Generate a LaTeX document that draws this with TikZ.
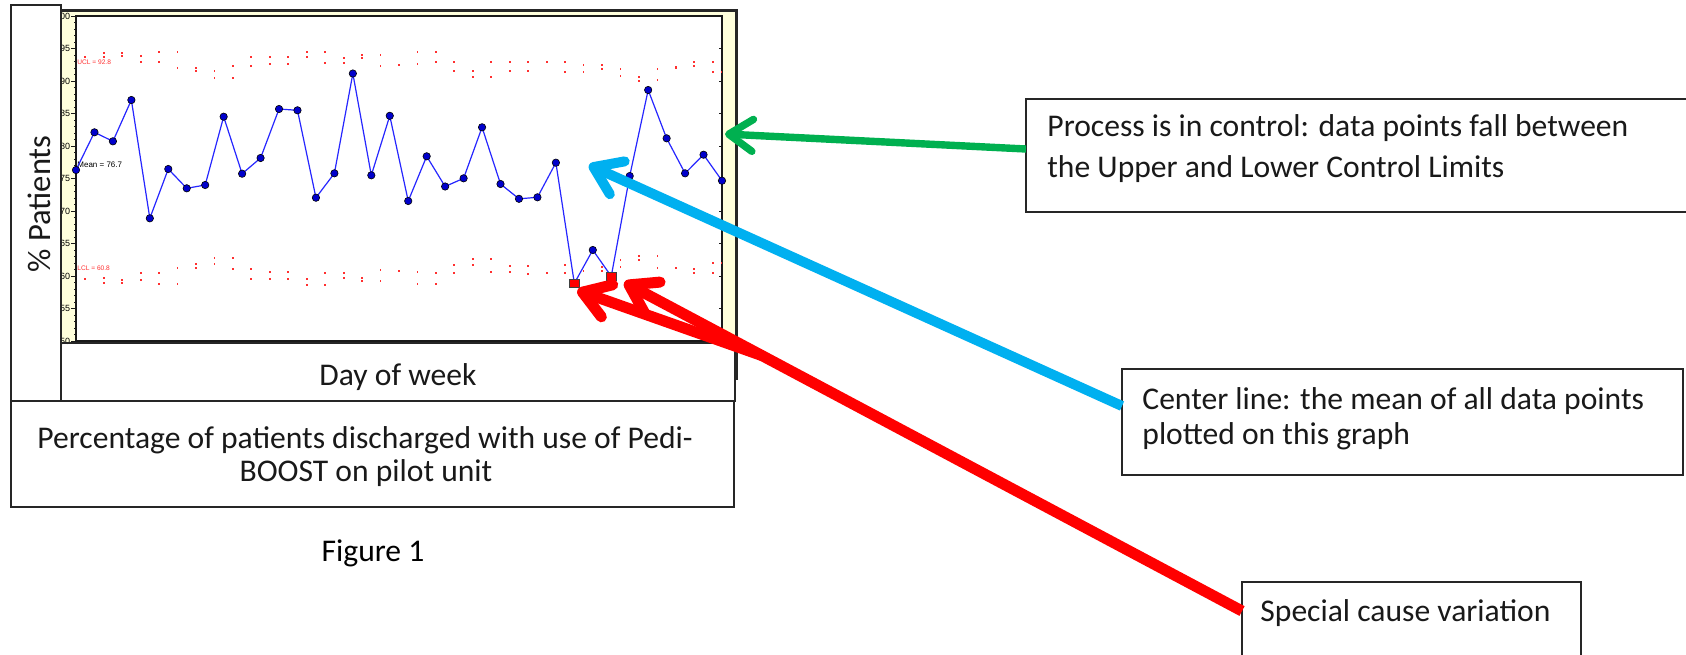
\documentclass[tikz,border=0pt]{standalone}
\usepackage{fontspec}
\setmainfont{Carlito}
\newfontfamily\chartfont{Liberation Sans}
\usetikzlibrary{arrows.meta,calc}
\definecolor{panelyellow}{HTML}{FFFFDC}
\definecolor{offgreen}{HTML}{00B050}
\definecolor{offblue}{HTML}{00B0F0}
\definecolor{offred}{HTML}{FF0000}
\definecolor{ptblue}{HTML}{0000CC}
\definecolor{lineblue}{HTML}{2626FF}
\definecolor{limred}{HTML}{FF3030}
\newcommand\myfont{\fontsize{15.8}{19}\selectfont}
\tikzset{
  box/.style={draw=black!85, line width=0.6pt, inner sep=0pt, outer sep=0pt, anchor=north west},
  txt/.style={inner sep=0pt, anchor=base west, font=\myfont, text=black!90},
  ctxt/.style={inner sep=0pt, anchor=base, font=\myfont, text=black!90},
  plotframe/.style={draw=black!90, line width=0.6pt},
  tickline/.style={draw=black!90, line width=0.4pt},
  dataline/.style={draw=lineblue, line width=0.6pt},
  ptmark/.style={circle, minimum size=3.7pt, inner sep=0pt, fill=ptblue, draw=black, line width=0.3pt},
  sqmark/.style={rectangle, minimum width=5pt, minimum height=4.2pt, inner sep=0pt, fill=red, draw=black!75, line width=0.4pt},
  limdot/.style={fill=limred},
  greenarrow/.style={draw=offgreen, line width=3.7pt, -{Straight Barb[length=12pt,width=16pt,round]}},
  bluearrow/.style={draw=offblue, line width=5pt, -{Straight Barb[length=13pt,width=18pt,round]}},
  redarrow/.style={draw=offred, line width=5.5pt, -{Straight Barb[length=13pt,width=17pt,round]}},
}
\begin{document}
\begin{tikzpicture}[x=0.5pt,y=-0.5pt]
\useasboundingbox (0,0) rectangle (1686,654);
\clip (0,0) rectangle (1686,654);
\fill[white] (0,0) rectangle (1686,654);

% chart panel
\fill[panelyellow] (61,10) rectangle (736,343);
\draw[plotframe, fill=white] (76,16) rectangle (722,341);

% y axis ticks
\foreach \k in {0,...,50} { \draw[tickline] (76,{341-\k*6.5}) -- ++(-2.5,0); }
\foreach \k in {0,5,...,50} { \draw[tickline] (76,{341-\k*6.5}) -- ++(-5,0);
  \draw[tickline] (722,{341-\k*6.5}) -- ++(-3,0); }
% x axis ticks
\foreach \i in {0,...,35} { \draw[tickline] ({76+\i*18.457},341) -- ++(0,2.5); }

% y labels
\begin{scope}
\clip (61,0) rectangle (76,350);
\foreach \v in {50,55,...,100} {
  \node[anchor=east, inner sep=0pt, font=\chartfont\fontsize{4.5}{5}\selectfont] (yl\v) at (70.5,{341-(\v-50)*6.5}) {\v};
}
\end{scope}

% control limit dots
\foreach \k/\a/\b in {0/57.3/57.3,1/53.3/57.3,2/53.3/55.7,3/55.7/62.3,4/52.3/62.3,5/52.3/68.3,6/68.3/71,7/71/78.3,8/66.3/78.3,9/56.7/66.3,10/56.7/64,11/56.7/64,12/51.7/56.7,13/51.7/63,14/58/63,15/54.7/58,16/54.7/65.7,17/65/65,18/52/64,19/52/62,20/62/71,21/71/77,22/62/77,23/62/71,24/62/71,25/62/62,26/62/72,27/65/72,28/65/69,29/69/76,30/77/81,31/69/80,32/67/68,33/62/66,34/62/72} {
  \fill[limdot] ({85.23+\k*18.457-0.9},{\a-0.9}) rectangle ++(1.8,1.8);
  \fill[limdot] ({85.23+\k*18.457-0.9},{\b-0.9}) rectangle ++(1.8,1.8);
}
\foreach \k/\a/\b in {0/279/279,1/278.3/282.7,2/280.3/282.7,3/273.3/280,4/273.3/283.7,5/268.3/283.7,6/264.3/268.3,7/257.7/264.3,8/257.7/269.3,9/269.3/279,10/271.7/279,11/271.7/279,12/279/284.7,13/272.7/284.7,14/272.7/278.3,15/278.3/281,16/270/281,17/270.7/270.7,18/271.7/283.7,19/273.3/283.7,20/265/273.3,21/259/265,22/259/272,23/266/272,24/266/273.7,25/273.3/273.3,26/265/273.3,27/270.7/270.7,28/266.7/271.3,29/260/266.7,30/256/260,31/256/268,32/268/268,33/269.3/273.3,34/263/273.3} {
  \fill[limdot] ({85.23+\k*18.457-0.9},{\a-0.9}) rectangle ++(1.8,1.8);
  \fill[limdot] ({85.23+\k*18.457-0.9},{\b-0.9}) rectangle ++(1.8,1.8);
}
\fill[limdot] (720.5,71.1) rectangle ++(1.8,1.8);
\fill[limdot] (720.5,262.1) rectangle ++(1.8,1.8);

% limit labels
\node[anchor=west, inner sep=0pt, text=limred, font=\chartfont\fontsize{3.3}{4}\selectfont] (ucl) at (77,62) {UCL = 92.8};
\node[anchor=west, inner sep=0pt, font=\chartfont\fontsize{4}{5}\selectfont] (meanlab) at (77,165) {Mean = 76.7};
\node[anchor=west, inner sep=0pt, text=limred, font=\chartfont\fontsize{3.3}{4}\selectfont] (lcl) at (77,268) {LCL = 60.8};

% data
\foreach \yy [count=\i from 0] in {170,132.3,141.3,100,218.3,169,188.3,185,116.7,173.7,158,109,110.3,197.7,173.3,73.5,175.3,115.8,201,156.3,186.5,178.3,127.3,184,198.8,197.3,162.7,283.3,250,276.3,176,90,138.3,173.3,154.7,180.7} {
  \coordinate (c\i) at ({76+\i*18.457},\yy);
}
\draw[dataline] (c0) \foreach \i in {1,...,35} { -- (c\i) };
\foreach \i in {0,...,35} {
  \ifnum\i=27\relax\else\ifnum\i=29\relax\else
    \node[ptmark] (p\i) at (c\i) {};
  \fi\fi
}
\node[sqmark] (sq27) at (c27) {};
\node[sqmark] (sq29) at (c29) {};

% outer frame
\draw[black!85, line width=1.5pt] (61,10) -- (736,10) -- (736,380);

% boxes
\node[box, minimum width=25pt, minimum height=198pt] (ylabbox) at (11,5) {};
\node[box, minimum width=337pt, minimum height=29pt] (daybox) at (61,343) {};
\node[box, minimum width=361.5pt, minimum height=53pt] (capbox) at (11,401) {};
\node[box, minimum width=350pt, minimum height=56.5pt] (procbox) at (1026,99) {};
\node[box, minimum width=280.5pt, minimum height=53pt] (centerbox) at (1122,369) {};
\node[box, minimum width=169.5pt, minimum height=50pt] (specbox) at (1242,582) {};

% texts
\node[rotate=90, inner sep=0pt, font=\fontsize{16.3}{19}\selectfont, text=black!90] (ylab) at (39,204) {\% Patients};
\node[ctxt] (daytext) at (398,385) {Day of week};
\node[ctxt] (cap1) at (365,448) {Percentage of patients discharged with use of Pedi-};
\node[ctxt] (cap2) at (366,481) {BOOST on pilot unit};
\node[ctxt, text=black] (fig) at (373,561) {Figure 1};
\node[txt] (proc1) at (1047,136.5) {Process is in control: data points fall between};
\node[txt] (proc2) at (1047,177.5) {the Upper and Lower Control Limits};
\node[txt] (cent1) at (1142,409) {Center line: the mean of all data points};
\node[txt] (cent2) at (1142,444) {plotted on this graph};
\node[txt] (spec) at (1260,621) {Special cause variation};

% arrows
\coordinate (greentip) at (725,134);
\coordinate (bluetip) at (589,165);
\coordinate (redtip27) at ($(sq27)+(3,7)$);
\coordinate (redtip29) at ($(sq29)+(13,6)$);
\coordinate (redstart) at ($(specbox.north west)+(0,29)$);
\draw[greenarrow] ($(procbox.north west)+(0,50)$) -- (greentip);
\draw[bluearrow] ($(centerbox.north west)+(0,37)$) -- (bluetip);
\draw[redarrow] (redstart) -- (redtip29);
\draw[redarrow] ($(redstart)!0.777!(redtip29)$) -- (redtip27);
\end{tikzpicture}
\end{document}
